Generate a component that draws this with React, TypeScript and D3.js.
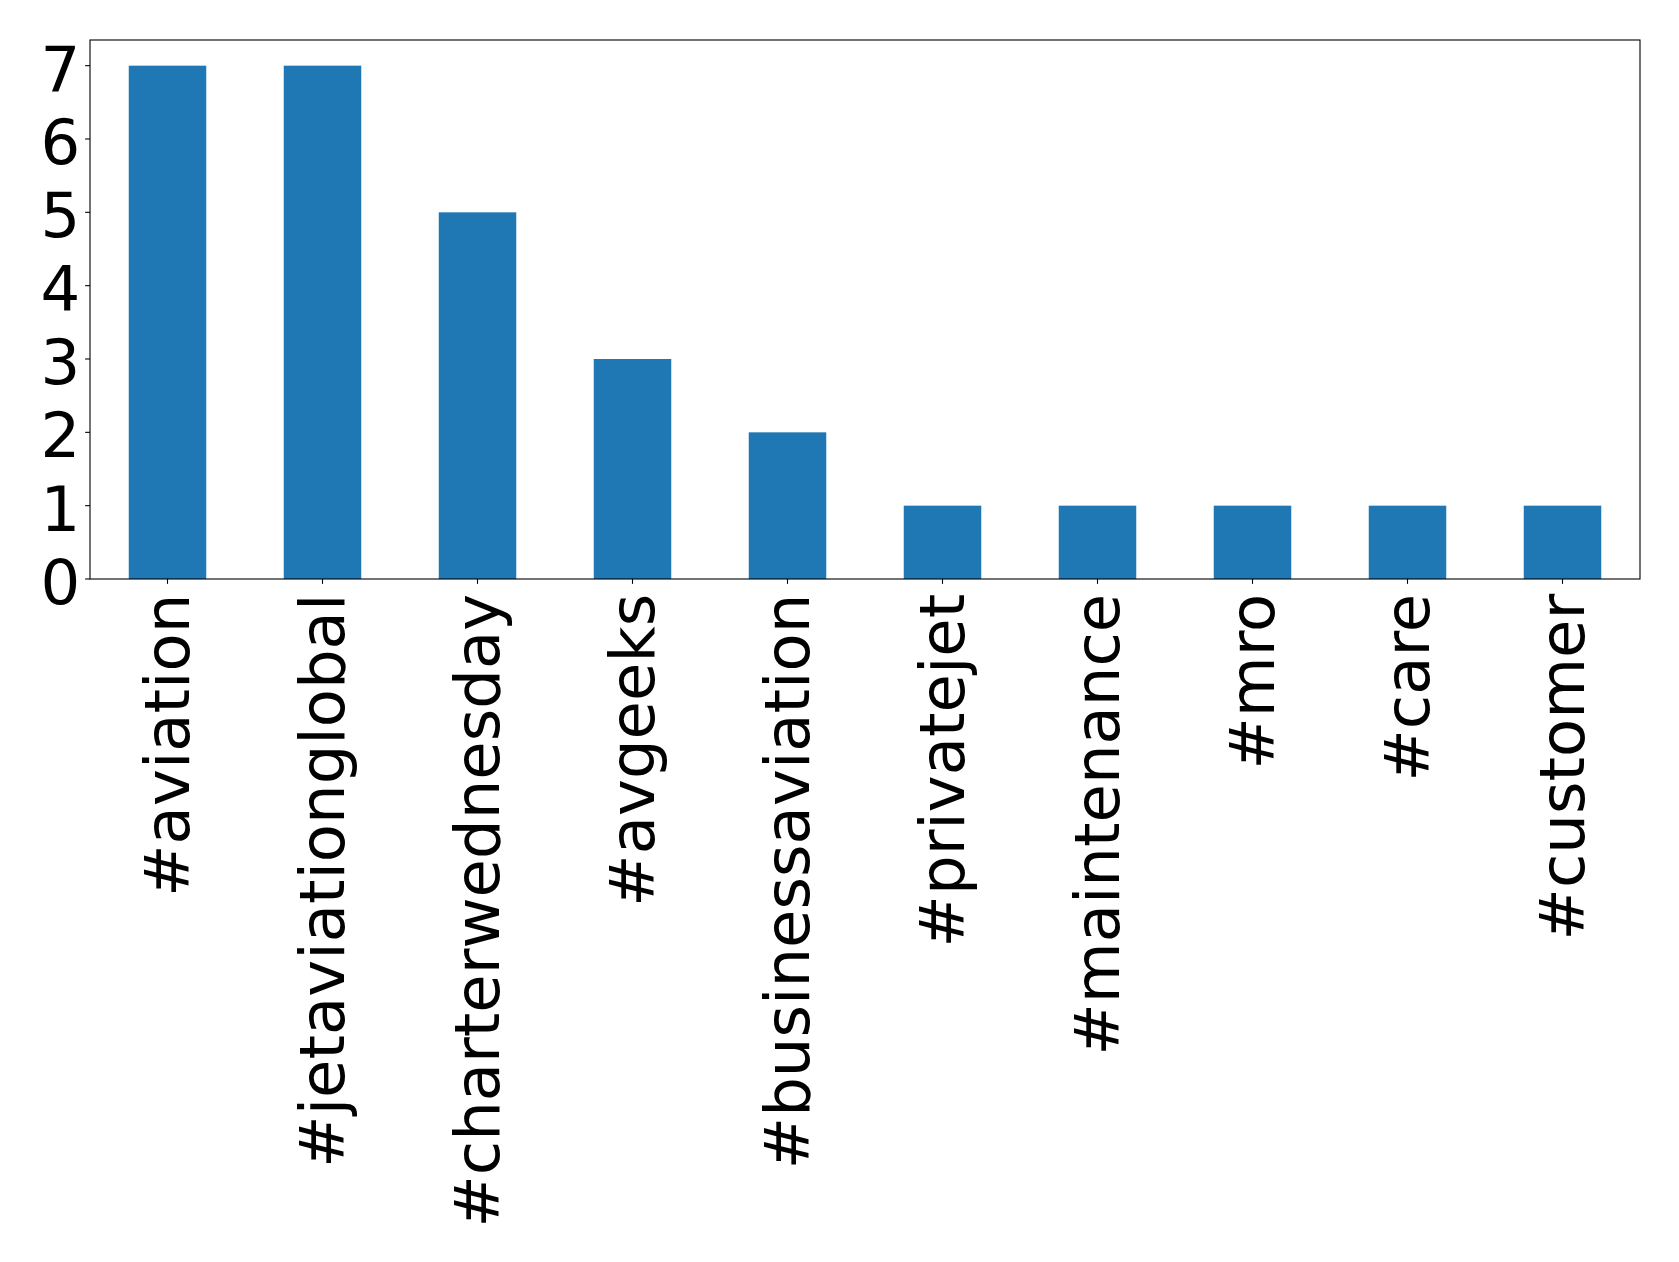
import React from "react";
import * as d3 from "d3";

const categories = [
  "#aviation",
  "#jetaviationglobal",
  "#charterwednesday",
  "#avgeeks",
  "#businessaviation",
  "#privatejet",
  "#maintenance",
  "#mro",
  "#care",
  "#customer",
];
const values = [7, 7, 5, 3, 2, 1, 1, 1, 1, 1];
const yTicks = [0, 1, 2, 3, 4, 5, 6, 7];

const W = 1679;
const H = 1262;
const left = 90;
const right = 1640;
const top = 40;
const bottom = 579;
const fontSize = 62.5;
const tickLen = 4.86;
const pad = 4.86;

export default function App() {
  const x = d3
    .scaleBand<string>()
    .domain(categories)
    .range([left, right])
    .paddingInner(0.5)
    .paddingOuter(0.25);
  const xc = d3.scalePoint<string>().domain(categories).range([left, right]).padding(0.5);
  const y = d3.scaleLinear().domain([0, 7.35]).range([bottom, top]);

  return (
    <svg
      width={W}
      height={H}
      style={{ position: "absolute", left: 0, top: 0, background: "#fff" }}
      fontFamily="DejaVu Sans"
    >
      <rect x={0} y={0} width={W} height={H} fill="#fff" />
      {categories.map((c, i) => (
        <rect
          key={c}
          x={x(c)}
          y={y(values[i])}
          width={x.bandwidth()}
          height={y(0) - y(values[i])}
          fill="#1f77b4"
        />
      ))}
      <rect
        x={left}
        y={top}
        width={right - left}
        height={bottom - top}
        fill="none"
        stroke="#000"
        strokeWidth={1.1}
      />
      {yTicks.map((t) => (
        <g key={t}>
          <line x1={left - tickLen} x2={left} y1={y(t)} y2={y(t)} stroke="#000" strokeWidth={1.1} />
          <text
            x={left - tickLen - pad}
            y={y(t)}
            dy="0.4em"
            textAnchor="end"
            fontSize={fontSize}
            fill="#000"
          >
            {t}
          </text>
        </g>
      ))}
      {categories.map((c) => {
        const cx = xc(c) as number;
        return (
          <g key={c}>
            <line x1={cx} x2={cx} y1={bottom} y2={bottom + tickLen} stroke="#000" strokeWidth={1.1} />
            <text
              transform={`translate(${cx},${bottom + tickLen + pad + 5}) rotate(-90)`}
              dy="0.35em"
              textAnchor="end"
              fontSize={fontSize}
              fill="#000"
            >
              {c}
            </text>
          </g>
        );
      })}
    </svg>
  );
}
